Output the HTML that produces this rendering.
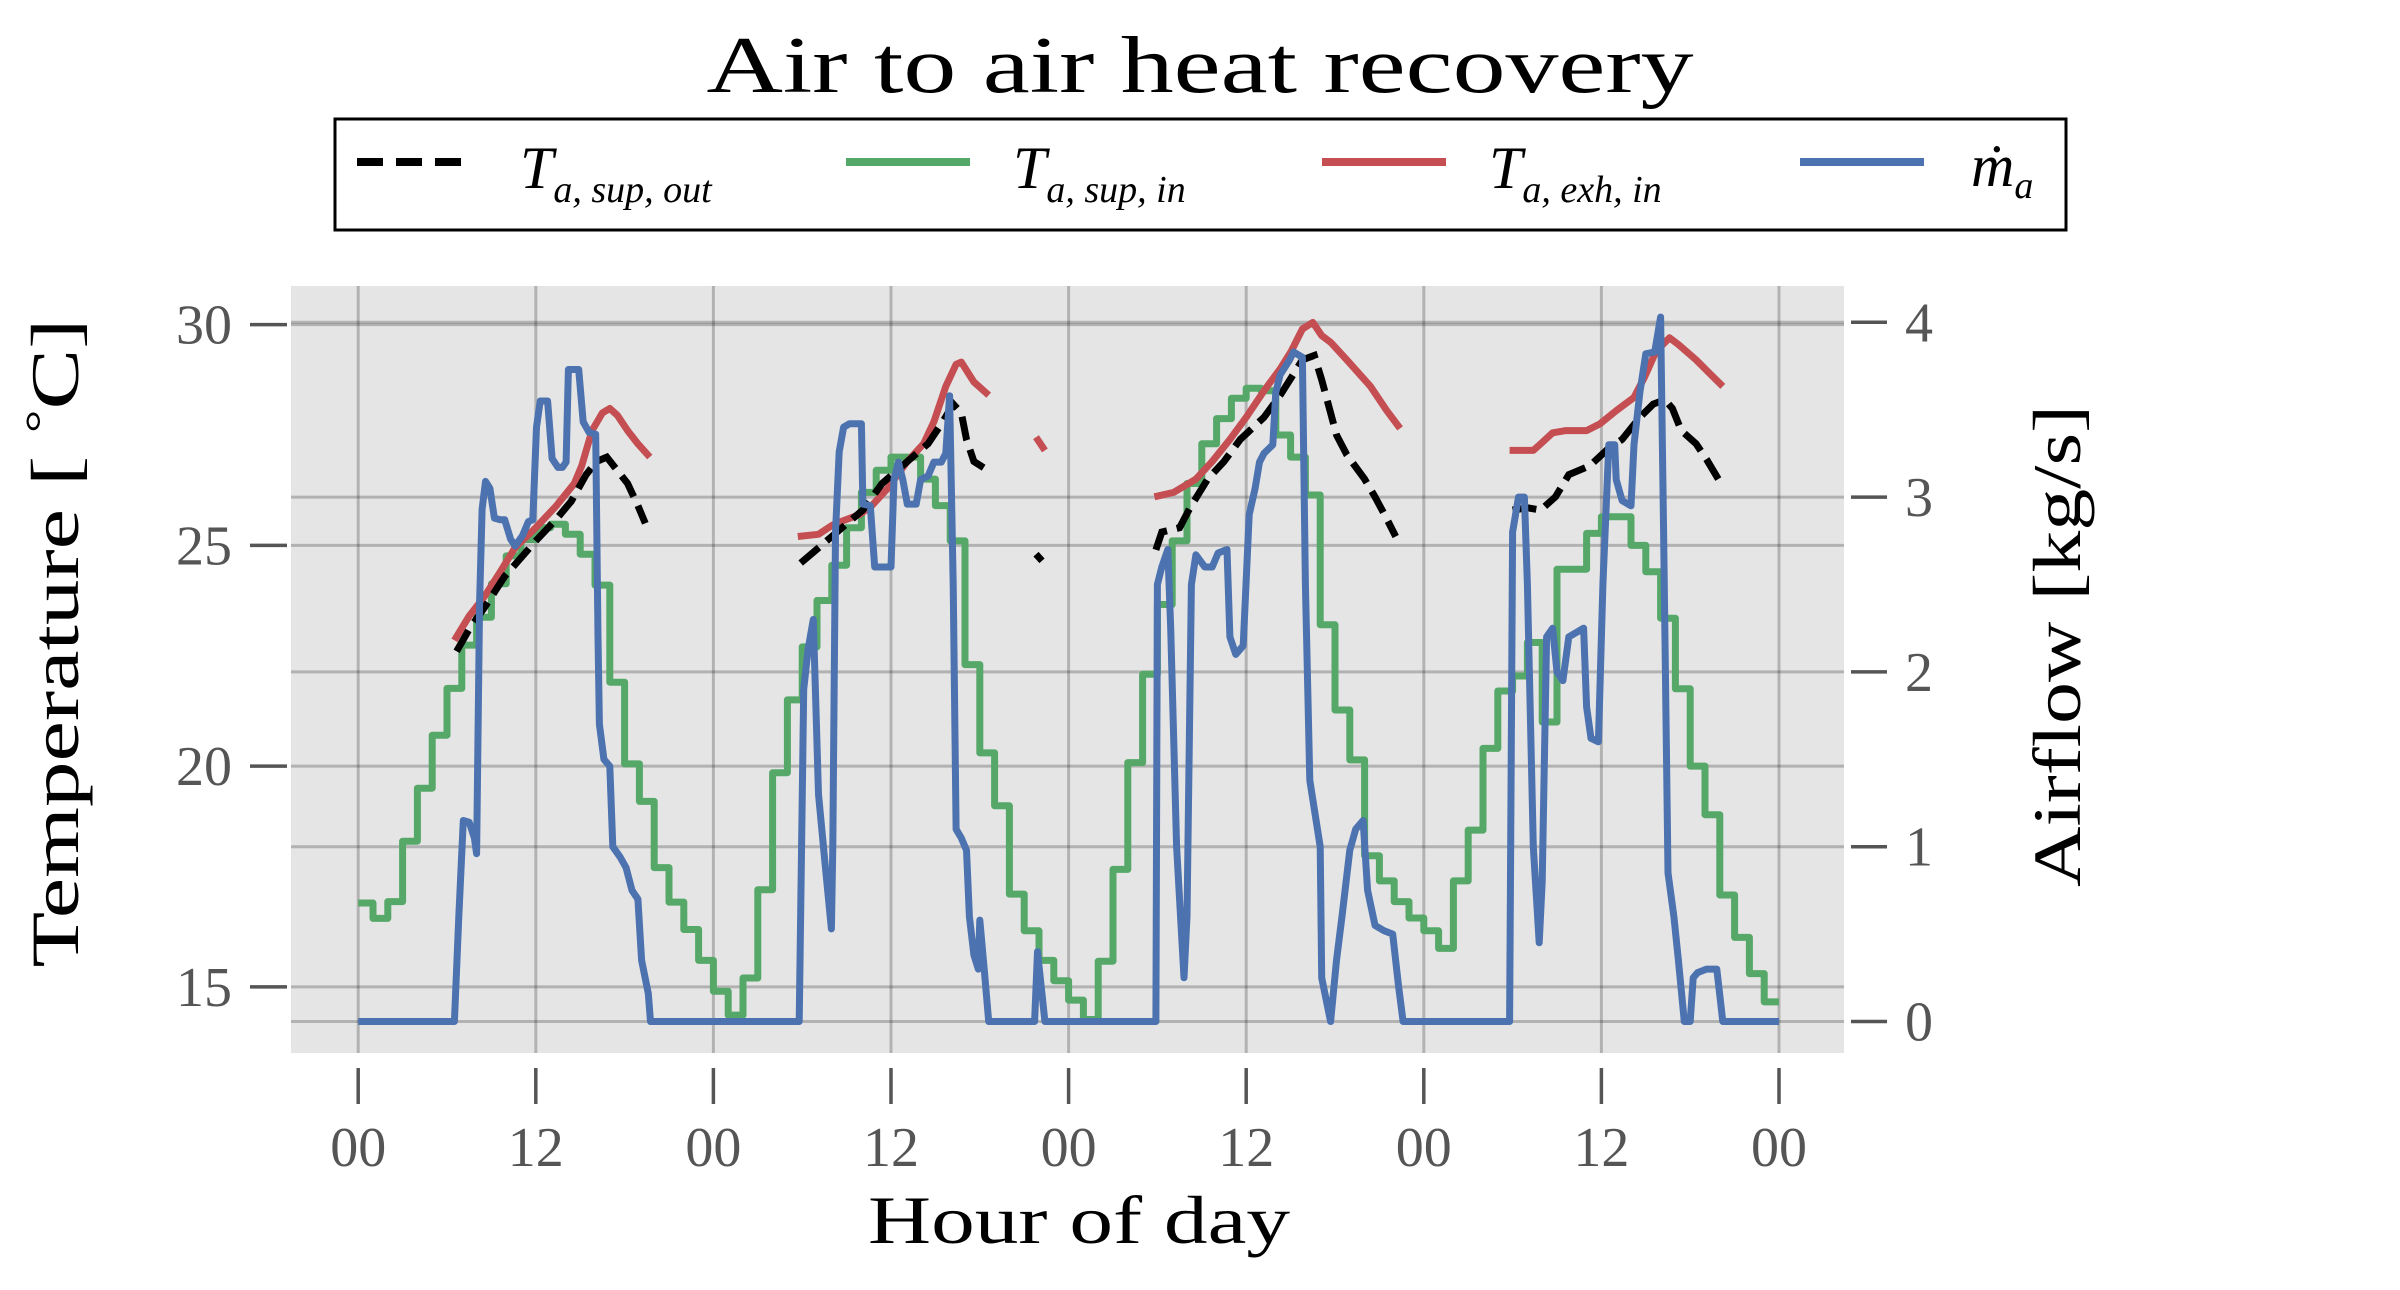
<!DOCTYPE html>
<html><head><meta charset="utf-8"><style>
html,body{margin:0;padding:0;background:#fff;}
svg{display:block;}
text{font-family:"Liberation Serif","DejaVu Serif",serif;}
</style></head><body>
<svg id="chart" xmlns="http://www.w3.org/2000/svg" width="2400" height="1290" viewBox="0 0 2400 1290">
<rect x="0" y="0" width="2400" height="1290" fill="#fff"/>
<text x="1200" y="92" font-size="80" text-anchor="middle" textLength="987" lengthAdjust="spacingAndGlyphs" fill="#000">Air to air heat recovery</text>
<g>
<rect x="335" y="119" width="1731" height="111" fill="#fff" stroke="#000" stroke-width="3"/>
<g>
<line x1="357" y1="162" x2="474" y2="162" stroke="#000" stroke-width="8" stroke-dasharray="26 13"/>
<text x="520" y="188" font-size="60" font-style="italic" fill="#000">T<tspan font-size="38" dy="14">a, sup, out</tspan></text>
</g>
<g>
<line x1="846" y1="162" x2="970" y2="162" stroke="#55a868" stroke-width="8"/>
<text x="1013" y="188" font-size="60" font-style="italic" fill="#000">T<tspan font-size="38" dy="14">a, sup, in</tspan></text>
</g>
<g>
<line x1="1322" y1="162" x2="1446" y2="162" stroke="#c44e52" stroke-width="8"/>
<text x="1489" y="188" font-size="60" font-style="italic" fill="#000">T<tspan font-size="38" dy="14">a, exh, in</tspan></text>
</g>
<g>
<line x1="1800" y1="162" x2="1924" y2="162" stroke="#4c72b0" stroke-width="8"/>
<text x="1971" y="186" font-size="60" font-style="italic" fill="#000">ṁ<tspan font-size="38" dy="12">a</tspan></text>
</g>
</g>
<rect x="291" y="286" width="1553" height="767" fill="#e5e5e5"/>
<g id="grid"></g>
<g id="series"></g>
<g id="axes"></g>
<text transform="translate(78,643) rotate(-90)" font-size="68" text-anchor="middle" textLength="649" lengthAdjust="spacingAndGlyphs" fill="#000">Temperature [ <tspan font-size="44" dy="-22">°</tspan><tspan dy="22">C]</tspan></text>
<text transform="translate(2080,646) rotate(-90)" font-size="68" text-anchor="middle" textLength="482" lengthAdjust="spacingAndGlyphs" fill="#000">Airflow [kg/s]</text>
<text x="1079" y="1243" font-size="68" text-anchor="middle" textLength="422" lengthAdjust="spacingAndGlyphs" fill="#000">Hour of day</text>
</svg>
<script>
const xTickHours = [0,12,24,36,48,60,72,84,96];
const xTickLabels = ["00","12","00","12","00","12","00","12","00"];
const leftTicks = [15,20,25,30];
const rightTicks = [0,1,2,3,4];
const supInTemps = [16.9,16.55,16.93,18.3,19.5,20.7,21.76,22.74,23.37,24.13,
24.76,25.13,25.4,25.48,25.25,24.8,24.1,21.9,20.05,19.2,
17.7,16.92,16.3,15.6,14.9,14.36,15.2,17.2,19.85,21.5,
22.7,23.75,24.55,25.4,26.2,26.7,27.0,27.0,26.5,25.9,
25.1,22.3,20.3,19.1,17.1,16.27,15.6,15.14,14.7,14.26,
15.58,17.66,20.08,22.08,23.66,25.1,26.4,27.3,27.87,28.33,
28.56,28.5,27.5,27.0,26.14,23.2,21.27,20.14,17.97,17.4,
16.93,16.56,16.27,15.87,17.4,18.55,20.4,21.7,22.04,22.8,
21.0,24.46,24.46,25.27,25.65,25.65,25.0,24.4,23.35,21.75,
20.0,18.9,17.08,16.12,15.3,14.66];
const flowHours = [0,6.5,6.8,7.1,7.5,7.85,8.0,8.2,8.37,8.6,8.9,9.2,9.6,9.9,10.3,10.6,11.1,11.5,11.8,12.05,12.3,12.8,13.1,13.5,13.8,14.05,14.2,14.9,15.2,15.6,16.05,16.2,16.3,16.6,17.0,17.2,17.7,18.1,18.5,18.9,19.15,19.6,19.75,
29.8,30.1,30.4,30.75,31.1,31.55,31.97,32.07,32.25,32.5,32.8,33.2,34.0,34.1,34.6,34.9,35.3,36.0,36.2,36.5,36.8,37.1,37.7,38.0,38.5,38.9,39.4,39.7,39.96,40.2,40.4,40.75,41.1,41.3,41.6,41.9,42.0,42.3,42.6,
45.7,45.9,46.4,
53.9,54.0,54.3,54.7,54.9,55.3,55.8,56.0,56.3,56.6,57.2,57.7,58.1,58.7,58.9,59.3,59.8,60.2,60.6,60.9,61.2,61.8,62.0,62.3,62.9,63.2,63.8,64.0,64.3,65.0,65.1,65.7,66.1,66.5,67.0,67.4,67.9,68.2,68.7,69.3,69.9,70.3,70.6,
77.8,78.0,78.4,78.8,79.0,79.4,79.8,80.0,80.3,80.7,81.0,81.4,81.8,82.8,83.0,83.3,83.8,84.1,84.5,84.9,85.0,85.4,86.0,86.2,86.6,87.0,87.6,88.0,88.2,88.5,88.9,89.2,89.6,90.0,90.2,90.5,91.1,91.8,92.2,96];
const flowValues = [0,0,0.6,1.15,1.14,1.05,0.96,2.4,2.93,3.09,3.05,2.88,2.87,2.87,2.76,2.72,2.78,2.86,2.87,3.4,3.55,3.55,3.22,3.17,3.17,3.2,3.73,3.73,3.43,3.37,3.36,2.2,1.7,1.5,1.46,1.0,0.94,0.88,0.75,0.7,0.35,0.16,0,
0,1.9,2.13,2.3,1.3,0.9,0.53,1.0,2.8,3.26,3.4,3.42,3.42,2.96,2.95,2.6,2.6,2.6,3.1,3.2,3.1,2.96,2.96,3.1,3.12,3.2,3.2,3.25,3.58,2.5,1.1,1.05,0.98,0.6,0.38,0.3,0.58,0.3,0,
0,0.4,0,
0,2.5,2.6,2.7,2.25,1.0,0.25,0.6,2.5,2.67,2.6,2.6,2.68,2.7,2.2,2.1,2.15,2.9,3.05,3.2,3.25,3.3,3.6,3.7,3.78,3.83,3.8,2.5,1.38,1.0,0.25,0,0.35,0.62,0.98,1.1,1.15,0.75,0.55,0.52,0.5,0.2,0,
0,2.8,3.0,3.0,2.5,1.0,0.45,0.8,2.2,2.25,2.0,1.95,2.2,2.25,1.8,1.62,1.6,2.5,3.3,3.3,3.1,2.98,2.95,3.3,3.6,3.82,3.83,4.03,2.8,0.85,0.6,0.35,0,0,0.25,0.28,0.3,0.3,0,0];
const exhHours = [6.5,7.5,8.55,9.6,10.6,12.0,13.4,14.6,15.1,15.8,16.5,17.0,17.5,18.2,18.9,19.7,null,
29.7,31.1,32.0,32.7,33.9,34.7,35.8,37.1,38.2,38.9,39.7,40.4,40.75,41.6,42.6,null,
45.8,46.4,null,
53.8,55.1,56.6,57.7,58.9,60.0,61.2,62.3,63.05,63.8,64.5,65.1,65.7,66.8,68.4,69.5,70.4,null,
77.8,79.4,79.9,80.7,81.6,83.0,83.9,85.0,86.2,86.9,87.7,88.6,89.2,90.4,91.3,92.2];
const exhTemps = [22.85,23.4,23.85,24.4,24.95,25.4,25.9,26.4,26.8,27.6,28.0,28.1,27.95,27.6,27.3,27.0,null,
25.2,25.25,25.45,25.55,25.7,25.9,26.3,26.9,27.3,27.8,28.6,29.1,29.15,28.7,28.4,null,
27.45,27.15,null,
26.1,26.2,26.5,26.9,27.4,27.9,28.5,29.0,29.4,29.9,30.05,29.75,29.6,29.2,28.6,28.05,27.65,null,
27.15,27.15,27.3,27.55,27.6,27.6,27.75,28.05,28.35,28.8,29.4,29.7,29.55,29.2,28.9,28.6];
const outHours = [6.65,7.5,8.55,9.9,12.0,13.4,14.4,15.4,16.1,16.8,17.5,18.2,18.9,19.4,null,
29.9,30.6,32.0,34.1,35.4,37.1,38.5,39.5,40.2,40.75,41.1,41.6,42.3,null,
45.8,46.2,null,
53.9,54.3,55.5,56.2,57.4,58.5,59.6,61.2,62.3,63.05,63.8,64.6,65.1,65.7,66.1,66.8,68.0,68.7,69.5,70.1,null,
78.0,79.0,79.9,80.9,81.8,83.2,84.5,85.4,86.6,87.5,88.3,88.8,89.4,90.4,91.1,91.9];
const outTemps = [22.6,23.1,23.6,24.3,25.1,25.6,26.0,26.6,26.9,27.0,26.7,26.4,25.9,25.5,null,
24.6,24.8,25.2,25.8,26.4,26.9,27.3,27.8,28.2,28.0,27.4,26.9,26.75,null,
24.8,24.65,null,
24.9,25.3,25.4,25.85,26.5,26.9,27.4,27.9,28.4,28.8,29.2,29.3,28.75,28.0,27.5,27.05,26.5,26.1,25.6,25.2,null,
25.8,25.85,25.8,26.1,26.6,26.8,27.2,27.4,27.9,28.2,28.3,28.1,27.6,27.3,26.95,26.5];

const NS = "http://www.w3.org/2000/svg";
function xs(h){ return 358.2 + h * (1779 - 358.2) / 96; }
function yT(t){ return 324.6 + (30 - t) * 44.15; }
function yM(m){ return 1021.5 - m * 174.8; }
function mk(tag, attrs, parent){
  const el = document.createElementNS(NS, tag);
  for (const k in attrs) el.setAttribute(k, attrs[k]);
  parent.appendChild(el);
  return el;
}
const grid = document.getElementById('grid');
const axes = document.getElementById('axes');
const series = document.getElementById('series');
const gridStyle = {stroke:'rgba(0,0,0,0.22)', 'stroke-width':3};

xTickHours.forEach((h, i) => {
  const x = xs(h);
  const g = mk('line', Object.assign({x1:x, x2:x, y1:286, y2:1053}, gridStyle), grid);
  
  
  const t = mk('line', {x1:x, x2:x, y1:1068, y2:1104, stroke:'#555', 'stroke-width':3.5}, axes);
  
  
  const l = mk('text', {x:x, y:1166, 'font-size':56, 'text-anchor':'middle', fill:'#555'}, axes);
  l.textContent = xTickLabels[i];
  
  
});
leftTicks.forEach(v => {
  const y = yT(v);
  const g = mk('line', Object.assign({x1:291, x2:1844, y1:y, y2:y}, gridStyle), grid);
  
  
  const t = mk('line', {x1:250, x2:287, y1:y, y2:y, stroke:'#555', 'stroke-width':3.5}, axes);
  
  
  const l = mk('text', {x:232, y:y+19, 'font-size':56, 'text-anchor':'end', fill:'#555'}, axes);
  l.textContent = String(v);
  
  
});
rightTicks.forEach(v => {
  const y = yM(v);
  const g = mk('line', Object.assign({x1:291, x2:1844, y1:y, y2:y}, gridStyle), grid);
  
  
  const t = mk('line', {x1:1851, x2:1887, y1:y, y2:y, stroke:'#555', 'stroke-width':3.5}, axes);
  
  
  const l = mk('text', {x:1905, y:y+19, 'font-size':56, 'text-anchor':'start', fill:'#555'}, axes);
  l.textContent = String(v);
  
  
});

let dG = '';
supInTemps.forEach((t, i) => {
  const y = yT(t);
  dG += (i === 0 ? 'M' : 'L') + xs(i).toFixed(1) + ',' + y.toFixed(1) + ' L' + xs(i+1).toFixed(1) + ',' + y.toFixed(1) + ' ';
});
const green = mk('path', {d:dG, fill:'none', stroke:'#55a868', 'stroke-width':7, 'stroke-linejoin':'round'}, series);



function segPath(hours, vals, yf){
  let d = '', pen = false;
  for (let i = 0; i < hours.length; i++){
    if (hours[i] === null || vals[i] === null){ pen = false; continue; }
    d += (pen ? 'L' : 'M') + xs(hours[i]).toFixed(1) + ',' + yf(vals[i]).toFixed(1) + ' ';
    pen = true;
  }
  return d;
}
const red = mk('path', {d:segPath(exhHours, exhTemps, yT), fill:'none', stroke:'#c44e52', 'stroke-width':7, 'stroke-linejoin':'round'}, series);


const black = mk('path', {d:segPath(outHours, outTemps, yT), fill:'none', stroke:'#000', 'stroke-width':7, 'stroke-dasharray':'24 10'}, series);


const blue = mk('path', {d:segPath(flowHours, flowValues, yM), fill:'none', stroke:'#4c72b0', 'stroke-width':7, 'stroke-linejoin':'round'}, series);


</script>
</body></html>
